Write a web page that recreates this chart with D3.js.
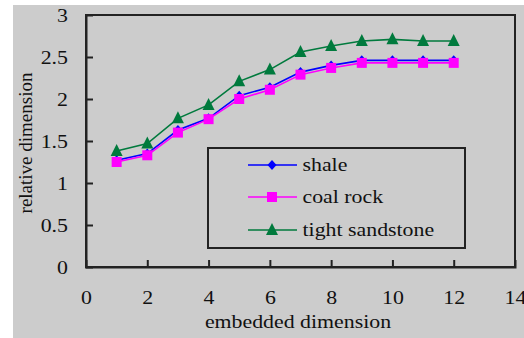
<!DOCTYPE html>
<html><head><meta charset="utf-8">
<script src="https://cdn.jsdelivr.net/npm/d3@7/dist/d3.min.js"></script>
<style>body{margin:0;background:#fff}svg{display:block}</style>
</head><body>
<script>
const xValues = [1,2,3,4,5,6,7,8,9,10,11,12];
const shale = [1.27,1.35,1.63,1.77,2.04,2.14,2.32,2.40,2.46,2.46,2.46,2.46];
const coalRock = [1.25,1.33,1.60,1.76,2.00,2.11,2.29,2.37,2.43,2.43,2.43,2.43];
const tightSandstone = [1.38,1.47,1.77,1.93,2.21,2.35,2.56,2.63,2.69,2.71,2.69,2.69];
const xTicks = [0,2,4,6,8,10,12,14];
const yTicks = [0,0.5,1,1.5,2,2.5,3];
const seriesNames = ["shale","coal rock","tight sandstone"];
const seriesColors = ["#0000ff","#ff00ff","#007a3d"];
const seriesShapes = ["diamond","square","triangle"];

const W=524,H=338;
const FF="Liberation Serif";
const FS=19, SX=1.15;
const svg=d3.select("body").append("svg").attr("width",W).attr("height",H);
svg.append("rect").attr("x",13).attr("y",5).attr("width",W-13).attr("height",H-5).attr("fill","#cccccc");

const m={l:86,t:15,r:515,b:267};
const x=d3.scaleLinear().domain([0,14]).range([m.l,m.r]);
const y=d3.scaleLinear().domain([0,3]).range([m.b,m.t]);

svg.append("rect").attr("x",m.l).attr("y",m.t).attr("width",m.r-m.l).attr("height",m.b-m.t)
  .attr("fill","none").attr("stroke","#222").attr("stroke-width",2);

const xa=svg.append("g").attr("transform",`translate(0,${m.b})`)
  .call(d3.axisBottom(x).tickValues(xTicks).tickSize(-7).tickFormat(d3.format("d")));
const ya=svg.append("g").attr("transform",`translate(${m.l},0)`)
  .call(d3.axisLeft(y).tickValues(yTicks).tickSize(-7).tickFormat(d=>String(d)));
[xa,ya].forEach(a=>{
  a.attr("font-family",FF).attr("font-size",FS);
  a.select(".domain").attr("stroke","#222").attr("stroke-width",2);
  a.selectAll(".tick line").attr("stroke","#222").attr("stroke-width",2);
  a.selectAll(".tick text").attr("fill","#111").attr("font-family",FF).attr("font-size",FS);
});
xa.selectAll(".tick text").attr("y",0).attr("dy",null).attr("transform",`translate(0,37) scale(${SX},1)`);
ya.selectAll(".tick text").attr("x",0).attr("dy","0.34em").attr("transform",`translate(-18,0) scale(${SX},1)`);
xa.selectAll(".tick line").filter(d=>d===0||d===14).remove();
ya.selectAll(".tick line").filter(d=>d===0||d===3).remove();

svg.append("text").attr("transform",`translate(298,328) scale(${SX},1)`).attr("text-anchor","middle")
  .attr("font-family",FF).attr("font-size",FS).attr("fill","#111").text("embedded dimension");
svg.append("text").attr("transform",`translate(32,143) rotate(-90)`).attr("text-anchor","middle")
  .attr("font-family",FF).attr("font-size",FS).attr("fill","#111").text("relative dimension");

function marker(g,shape,color,cx,cy){
  if(shape==="diamond"){
    g.append("path").attr("d",`M${cx},${cy-5}L${cx+4.5},${cy}L${cx},${cy+5}L${cx-4.5},${cy}Z`).attr("fill",color);
  } else if(shape==="square"){
    g.append("rect").attr("x",cx-5).attr("y",cy-5).attr("width",10).attr("height",10).attr("fill",color);
  } else {
    g.append("path").attr("d",`M${cx},${cy-7}L${cx+6},${cy+5}L${cx-6},${cy+5}Z`).attr("fill",color);
  }
}

const allSeries=[shale,coalRock,tightSandstone];
const line=d3.line().x((d,i)=>x(xValues[i])).y(d=>y(d));
allSeries.forEach((vals,si)=>{
  const g=svg.append("g");
  g.append("path").datum(vals).attr("d",line).attr("fill","none").attr("stroke",seriesColors[si]).attr("stroke-width",1.6);
  vals.forEach((v,i)=>marker(g,seriesShapes[si],seriesColors[si],x(xValues[i]),y(v)));
});

const lg=svg.append("g");
lg.append("rect").attr("x",208).attr("y",148).attr("width",257).attr("height",100)
  .attr("fill","#cccccc").attr("stroke","#222").attr("stroke-width",2);
const rowsY=[165,197,230];
seriesNames.forEach((n,i)=>{
  lg.append("line").attr("x1",248).attr("x2",297).attr("y1",rowsY[i]).attr("y2",rowsY[i])
    .attr("stroke",seriesColors[i]).attr("stroke-width",1.6);
  marker(lg,seriesShapes[i],seriesColors[i],272,rowsY[i]);
  lg.append("text").attr("transform",`translate(302.5,${rowsY[i]+5.5}) scale(${SX},1)`)
    .attr("font-family",FF).attr("font-size",FS).attr("fill","#111").text(n);
});
</script>
</body></html>
